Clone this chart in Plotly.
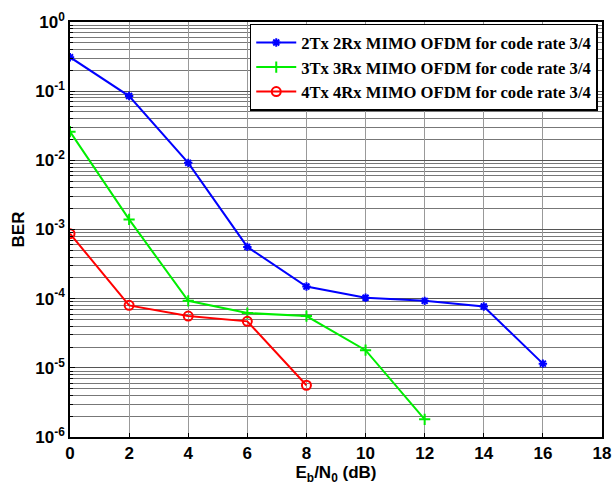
import plotly.graph_objects as go

snr = [0, 2, 4, 6, 8, 10, 12, 14, 16]
ber_2x2 = [0.31, 0.085, 0.0092, 5.6e-4, 1.5e-4, 1.03e-4, 9.3e-5, 7.7e-5, 1.15e-5]
snr_3x3 = [0, 2, 4, 6, 8, 10, 12]
ber_3x3 = [0.026, 1.4e-3, 9.3e-5, 6.2e-5, 5.6e-5, 1.8e-5, 1.8e-6]
snr_4x4 = [0, 2, 4, 6, 8]
ber_4x4 = [8.7e-4, 8.0e-5, 5.6e-5, 4.7e-5, 5.6e-6]

names = ["2Tx 2Rx MIMO OFDM for code rate 3/4",
         "3Tx 3Rx MIMO OFDM for code rate 3/4",
         "4Tx 4Rx MIMO OFDM for code rate 3/4"]

x_ticks = [0, 2, 4, 6, 8, 10, 12, 14, 16, 18]
y_tickvals = [1, 1e-1, 1e-2, 1e-3, 1e-4, 1e-5, 1e-6]
y_ticktext = ["10<sup>0</sup>", "10<sup>-1</sup>", "10<sup>-2</sup>", "10<sup>-3</sup>",
              "10<sup>-4</sup>", "10<sup>-5</sup>", "10<sup>-6</sup>"]

fig = go.Figure()
fig.add_trace(go.Scatter(x=snr, y=ber_2x2, mode="lines+markers", name="<b>" + names[0] + "</b>",
                         line=dict(color="#0000ff", width=2),
                         marker=dict(symbol="asterisk-open", size=7, color="#0000ff",
                                     line=dict(width=2, color="#0000ff"))))
fig.add_trace(go.Scatter(x=snr_3x3, y=ber_3x3, mode="lines+markers", name="<b>" + names[1] + "</b>",
                         line=dict(color="#00ee00", width=2),
                         marker=dict(symbol="cross-thin-open", size=8, color="#00ee00",
                                     line=dict(width=2, color="#00ee00"))))
fig.add_trace(go.Scatter(x=snr_4x4, y=ber_4x4, mode="lines+markers", name="<b>" + names[2] + "</b>",
                         line=dict(color="#ff0000", width=2),
                         marker=dict(symbol="circle-open", size=9, color="#ff0000",
                                     line=dict(width=2, color="#ff0000"))))

fig.update_layout(
    width=614, height=488,
    paper_bgcolor="white", plot_bgcolor="white",
    margin=dict(l=70, r=12, t=22, b=51),
    font=dict(family="Liberation Sans, Arial", color="black"),
    legend=dict(x=0.992, y=0.996, xanchor="right", yanchor="top",
                bgcolor="white", bordercolor="black", borderwidth=1.5,
                font=dict(family="Liberation Serif, Times New Roman", size=16.6),
                tracegroupgap=0, itemwidth=40),
    showlegend=True,
)
fig.update_xaxes(
    range=[0, 18], tickvals=x_ticks, ticktext=["<b>%d</b>" % v for v in x_ticks],
    tickfont=dict(size=17), automargin=False, ticklabeloverflow="allow",
    showgrid=True, gridcolor="#999999", gridwidth=1,
    showline=True, linecolor="black", linewidth=1.5, mirror=True,
    ticks="inside", ticklen=4, tickcolor="black", zeroline=False,
    title=dict(text="<b>E<sub>b</sub>/N<sub>0</sub> (dB)</b>", font=dict(size=17), standoff=3),
)
fig.update_yaxes(
    type="log", range=[-6, 0], tickvals=y_tickvals, ticktext=["<b>%s</b>" % t for t in y_ticktext],
    tickfont=dict(size=17), automargin=False, ticklabeloverflow="allow",
    showgrid=True, gridcolor="#555555", gridwidth=1,
    minor=dict(dtick="D1", showgrid=True, gridcolor="#777777", ticks="inside", ticklen=3, tickcolor="black"),
    showline=True, linecolor="black", linewidth=1.5, mirror=True,
    ticks="inside", ticklen=5, tickcolor="black", zeroline=False,
    title=dict(text="<b>BER</b>", font=dict(size=17), standoff=6),
)

fig.write_html("out.html", config={"displayModeBar": False},
               post_script="document.body.style.margin='0';")
